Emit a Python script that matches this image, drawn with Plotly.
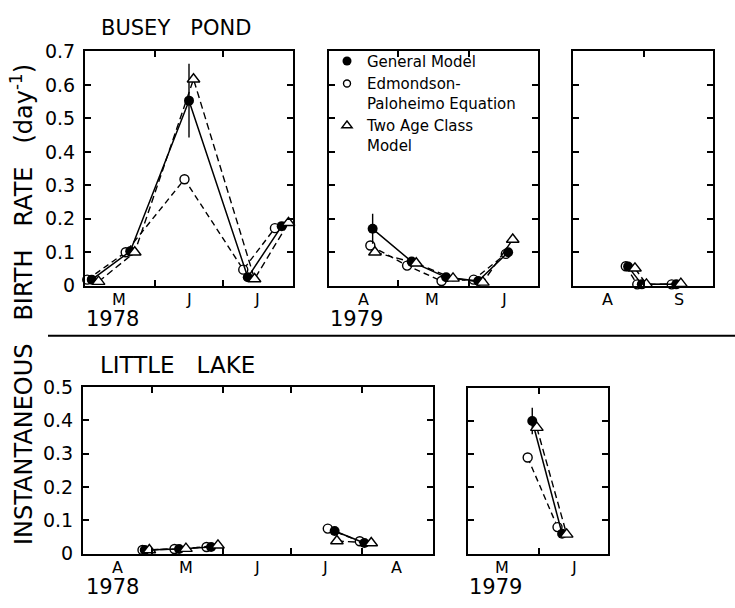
import plotly.graph_objects as go

W, H = 735, 608

# ---------------- DATA ----------------
# Busey Pond 1978
b78_gen_x = ["1978-05-04", "1978-05-21", "1978-06-16", "1978-07-12", "1978-07-27"]
b78_gen_y = [0.018, 0.103, 0.553, 0.025, 0.178]
b78_gen_err = [0, 0, 0.11, 0, 0]
b78_ep_x = ["1978-05-02", "1978-05-19", "1978-06-14", "1978-07-10", "1978-07-24"]
b78_ep_y = [0.018, 0.100, 0.318, 0.048, 0.172]
b78_tac_x = ["1978-05-07", "1978-05-23", "1978-06-18", "1978-07-15", "1978-07-30"]
b78_tac_y = [0.012, 0.100, 0.617, 0.020, 0.188]

# Busey Pond 1979 (spring)
b79_gen_x = ["1979-04-20", "1979-05-07", "1979-05-22", "1979-06-05", "1979-06-18"]
b79_gen_y = [0.170, 0.072, 0.025, 0.014, 0.100]
b79_gen_err = [0.045, 0, 0, 0, 0]
b79_ep_x = ["1979-04-19", "1979-05-05", "1979-05-20", "1979-06-03", "1979-06-17"]
b79_ep_y = [0.120, 0.060, 0.014, 0.018, 0.095]
b79_tac_x = ["1979-04-21", "1979-05-09", "1979-05-25", "1979-06-07", "1979-06-20"]
b79_tac_y = [0.100, 0.067, 0.022, 0.010, 0.138]

# Busey Pond 1979 (late summer)
b79f_gen_x = ["1979-08-25", "1979-08-31", "1979-09-15"]
b79f_gen_y = [0.057, 0.004, 0.004]
b79f_ep_x = ["1979-08-24", "1979-08-29", "1979-09-13"]
b79f_ep_y = [0.058, 0.004, 0.004]
b79f_tac_x = ["1979-08-28", "1979-09-02", "1979-09-17"]
b79f_tac_y = [0.052, 0.004, 0.006]

# Little Lake 1978 (None = gap between sampling periods)
l78_gen_x = ["1978-04-28", "1978-05-13", "1978-05-27", None, "1978-07-20", "1978-08-02"]
l78_gen_y = [0.011, 0.014, 0.020, None, 0.068, 0.032]
l78_ep_x = ["1978-04-27", "1978-05-11", "1978-05-25", None, "1978-07-17", "1978-07-31"]
l78_ep_y = [0.011, 0.014, 0.020, None, 0.075, 0.037]
l78_tac_x = ["1978-04-30", "1978-05-16", "1978-05-30", None, "1978-07-21", "1978-08-05"]
l78_tac_y = [0.011, 0.015, 0.025, None, 0.038, 0.032]

# Little Lake 1979
l79_gen_x = ["1979-05-29", "1979-06-11"]
l79_gen_y = [0.400, 0.060]
l79_gen_err = [0.04, 0]
l79_ep_x = ["1979-05-27", "1979-06-09"]
l79_ep_y = [0.290, 0.080]
l79_tac_x = ["1979-05-31", "1979-06-13"]
l79_tac_y = [0.380, 0.058]

# Axis ranges / month labels
b78_range = ["1978-05-01", "1978-08-01"]
b78_ticks = ["1978-06-01", "1978-07-01"]
b78_months = ["M", "J", "J"]
b78_month_pos = ["1978-05-16", "1978-06-16", "1978-07-16"]

b79_range = ["1979-04-01", "1979-07-01"]
b79_ticks = ["1979-05-01", "1979-06-01"]
b79_months = ["A", "M", "J"]
b79_month_pos = ["1979-04-16", "1979-05-16", "1979-06-16"]

b79f_range = ["1979-08-01", "1979-10-01"]
b79f_ticks = ["1979-09-01"]
b79f_months = ["A", "S"]
b79f_month_pos = ["1979-08-16", "1979-09-16"]

l78_range = ["1978-04-01", "1978-09-01"]
l78_ticks = ["1978-05-01", "1978-06-01", "1978-07-01", "1978-08-01"]
l78_months = ["A", "M", "J", "J", "A"]
l78_month_pos = ["1978-04-16", "1978-05-16", "1978-06-16", "1978-07-16", "1978-08-16"]

l79_range = ["1979-05-01", "1979-07-01"]
l79_ticks = ["1979-06-01"]
l79_months = ["M", "J"]
l79_month_pos = ["1979-05-16", "1979-06-16"]

series_names = ["General Model", "Edmondson-<br>Paloheimo Equation", "Two Age Class<br>Model"]

# ---------------- LAYOUT GEOMETRY (pixels) ----------------
panels = [
    # (x0, x1, y0_top, y1_bottom, yrange, show_ylabels)
    (85, 293, 42, 285, 0.7, True),
    (329, 538, 42, 285, 0.7, False),
    (573, 713, 42, 285, 0.7, False),
    (83, 433, 390, 563, 0.5, True),
    (468, 608, 391, 563, 0.5, False),
]
ranges = [b78_range, b79_range, b79f_range, l78_range, l79_range]
tickv = [b78_ticks, b79_ticks, b79f_ticks, l78_ticks, l79_ticks]
months = [b78_months, b79_months, b79f_months, l78_months, l79_months]
month_pos = [b78_month_pos, b79_month_pos, b79f_month_pos, l78_month_pos, l79_month_pos]

data = [
    ((b78_gen_x, b78_gen_y, b78_gen_err), (b78_ep_x, b78_ep_y), (b78_tac_x, b78_tac_y)),
    ((b79_gen_x, b79_gen_y, b79_gen_err), (b79_ep_x, b79_ep_y), (b79_tac_x, b79_tac_y)),
    ((b79f_gen_x, b79f_gen_y, None), (b79f_ep_x, b79f_ep_y), (b79f_tac_x, b79f_tac_y)),
    ((l78_gen_x, l78_gen_y, None), (l78_ep_x, l78_ep_y), (l78_tac_x, l78_tac_y)),
    ((l79_gen_x, l79_gen_y, l79_gen_err), (l79_ep_x, l79_ep_y), (l79_tac_x, l79_tac_y)),
]

FONT = "DejaVu Sans"
fig = go.Figure()

for i, (gen, ep, tac) in enumerate(data):
    sfx = "" if i == 0 else str(i + 1)
    xa, ya = "x" + sfx, "y" + sfx
    # Edmondson-Paloheimo (dashed, open circles with white fill)
    fig.add_trace(go.Scatter(
        x=ep[0], y=ep[1], xaxis=xa, yaxis=ya, mode="lines+markers",
        line=dict(color="black", width=1.4, dash="6px,4px"),
        marker=dict(symbol="circle", size=9, color="white", line=dict(color="black", width=1.4)),
        connectgaps=False, cliponaxis=False, showlegend=False))
    # General model (solid, filled circles, error bars)
    err = dict(type="data", array=gen[2], visible=True, color="black",
               thickness=1.4, width=0) if gen[2] is not None else None
    fig.add_trace(go.Scatter(
        x=gen[0], y=gen[1], xaxis=xa, yaxis=ya, mode="lines+markers",
        line=dict(color="black", width=1.5),
        marker=dict(symbol="circle", size=10, color="black"),
        error_y=err, connectgaps=False, cliponaxis=False, showlegend=False))
    # Two age class (dashed, open triangles, white fill)
    fig.add_trace(go.Scatter(
        x=tac[0], y=tac[1], xaxis=xa, yaxis=ya, mode="lines+markers",
        line=dict(color="black", width=1.4, dash="7px,4px"),
        marker=dict(symbol="triangle-up", size=11, color="white",
                    line=dict(color="black", width=1.4)),
        connectgaps=False, cliponaxis=False, showlegend=False))

# legend-only traces (markers only, as in the original key)
fig.add_trace(go.Scatter(x=[None], y=[None], xaxis="x2", yaxis="y2", mode="markers",
                         name=series_names[0],
                         marker=dict(symbol="circle", size=9, color="black")))
fig.add_trace(go.Scatter(x=[None], y=[None], xaxis="x2", yaxis="y2", mode="markers",
                         name=series_names[1],
                         marker=dict(symbol="circle-open", size=7, color="black",
                                     line=dict(width=1.4))))
fig.add_trace(go.Scatter(x=[None], y=[None], xaxis="x2", yaxis="y2", mode="markers",
                         name=series_names[2],
                         marker=dict(symbol="triangle-up-open", size=9, color="black",
                                     line=dict(width=1.4))))

layout = dict(
    width=W, height=H, margin=dict(l=0, r=0, t=0, b=0),
    paper_bgcolor="white", plot_bgcolor="white",
    font=dict(family=FONT, color="black", size=16),
    showlegend=True,
    legend=dict(x=327 / W, y=1 - 35 / H, xanchor="left", yanchor="top",
                bgcolor="rgba(0,0,0,0)", font=dict(family=FONT, size=15),
                tracegroupgap=0, itemwidth=30, valign="top", borderwidth=0),
)

annotations = []
for i, (x0, x1, yt, yb, ymax, showy) in enumerate(panels):
    sfx = "" if i == 0 else str(i + 1)
    layout["xaxis" + sfx] = dict(
        domain=[x0 / W, x1 / W], anchor="y" + sfx, type="date",
        range=ranges[i], tickmode="array", tickvals=tickv[i], showticklabels=False,
        ticks="inside", ticklen=6, tickwidth=1.5, tickcolor="black",
        showline=True, linewidth=2, linecolor="black", mirror="ticks",
        showgrid=False, zeroline=False, fixedrange=True)
    layout["yaxis" + sfx] = dict(
        domain=[1 - yb / H, 1 - yt / H], anchor="x" + sfx,
        range=[0, ymax], tickmode="linear", tick0=0, dtick=0.1,
        showticklabels=showy, tickfont=dict(family=FONT, size=19),
        ticks="inside", ticklen=6, tickwidth=1.5, tickcolor="black",
        showline=True, linewidth=2, linecolor="black", mirror="ticks",
        showgrid=False, zeroline=False, ticklabelstandoff=4, fixedrange=True)
    for m, mp in zip(months[i], month_pos[i]):
        annotations.append(dict(x=mp, xref="x" + sfx, y=1 - (yb + 14) / H, yref="paper",
                                text=m, showarrow=False, xanchor="center", yanchor="middle",
                                font=dict(family=FONT, size=16)))

# year labels
for txt, px, py in [("1978", 84, 320), ("1979", 328, 320), ("1978", 84, 598), ("1979", 467, 598)]:
    annotations.append(dict(x=px / W, y=1 - py / H, xref="paper", yref="paper", text=txt,
                            showarrow=False, xanchor="left", yanchor="middle",
                            font=dict(family=FONT, size=21)))

# lake titles
annotations.append(dict(x=99 / W, y=1 - 18 / H, xref="paper", yref="paper",
                        text="BUSEY&#160;&#160;&#160;POND", showarrow=False, xanchor="left",
                        yanchor="middle", font=dict(family=FONT, size=21)))
annotations.append(dict(x=98 / W, y=1 - 367 / H, xref="paper", yref="paper",
                        text="LITTLE&#160;&#160;&#160;LAKE", showarrow=False, xanchor="left",
                        yanchor="middle", font=dict(family=FONT, size=23)))

# shared y-axis title
annotations.append(dict(x=22 / W, y=1 - 305 / H, xref="paper", yref="paper",
                        text="INSTANTANEOUS&#160;&#160;&#160;BIRTH&#160;&#160;&#160;RATE&#160;&#160;&#160;(day<sup>-1</sup>)",
                        textangle=-90, showarrow=False, xanchor="center", yanchor="middle",
                        font=dict(family=FONT, size=24)))

layout["annotations"] = annotations
layout["shapes"] = [dict(type="line", xref="paper", yref="paper",
                         x0=48 / W, x1=1, y0=1 - 337 / H, y1=1 - 337 / H,
                         line=dict(color="black", width=2))]

fig.update_layout(**layout)
fig.write_html("out.html")
